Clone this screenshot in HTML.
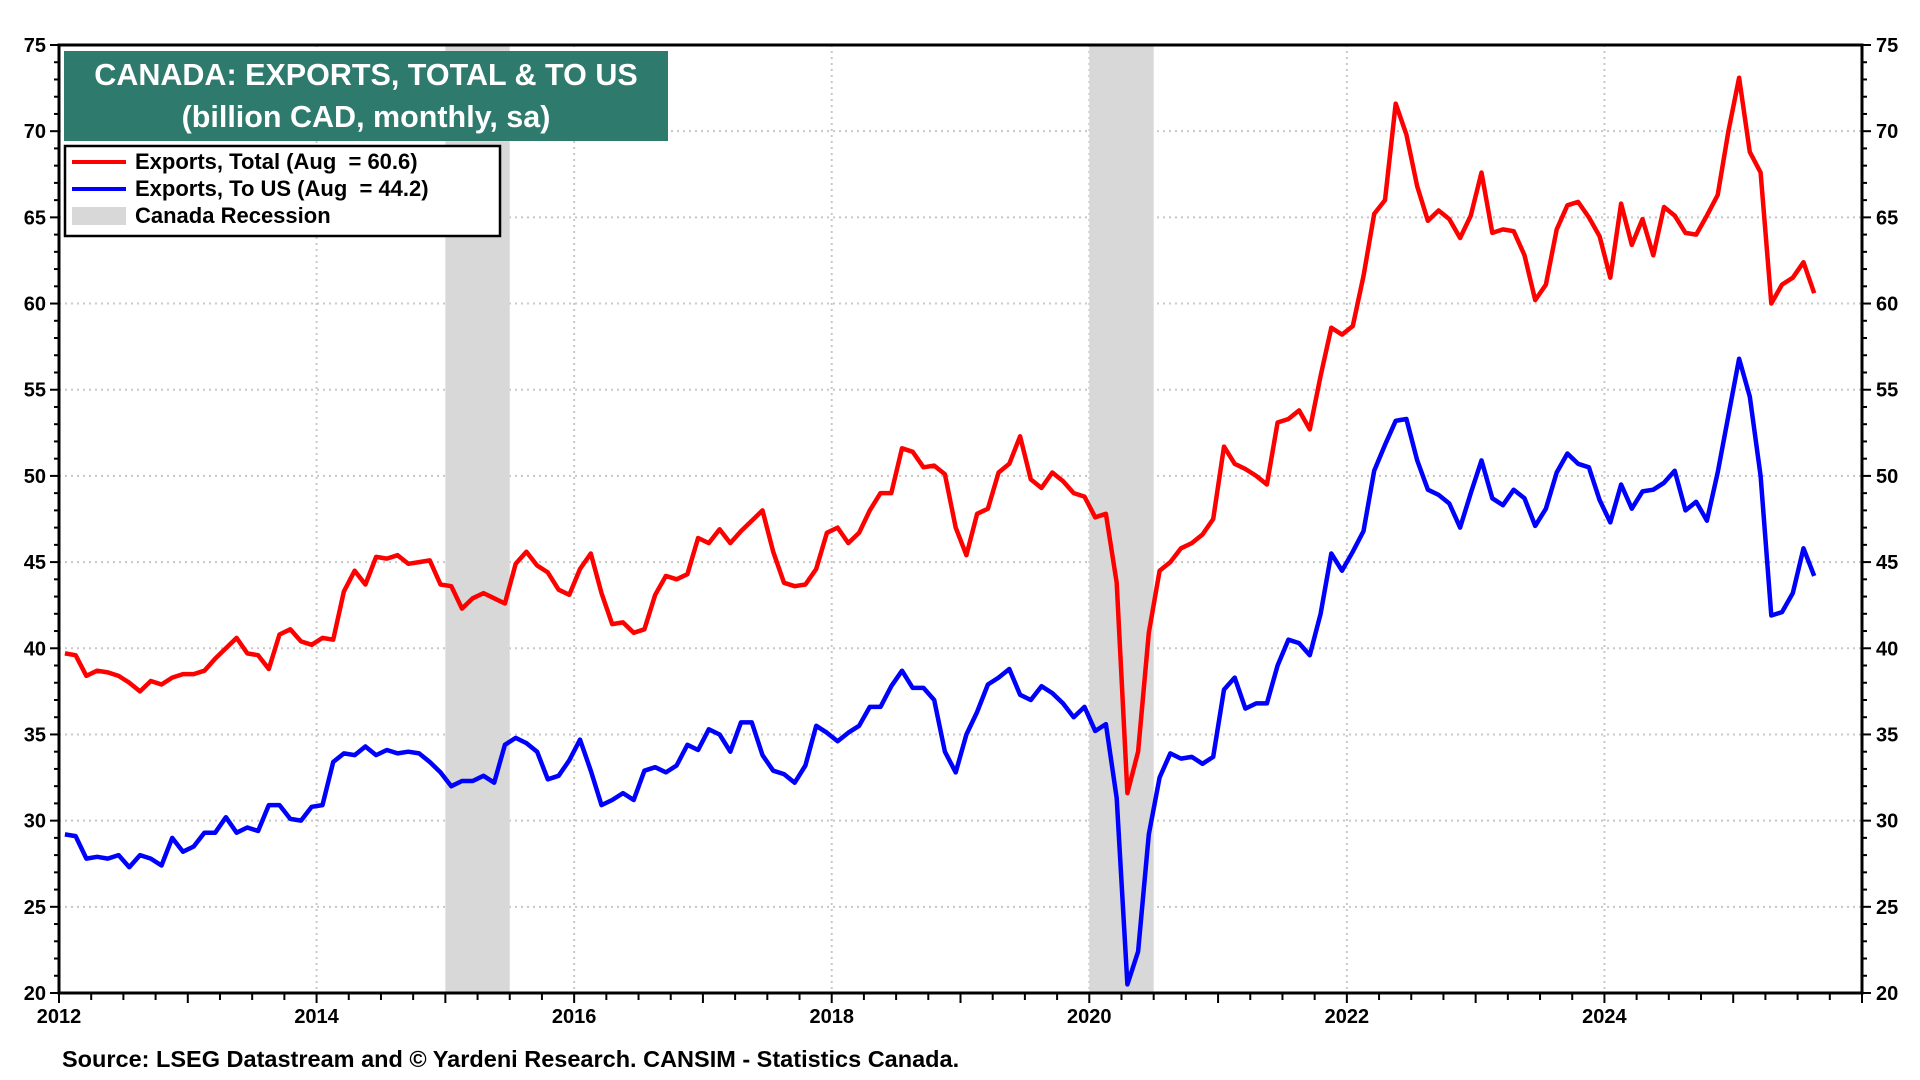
<!DOCTYPE html>
<html><head><meta charset="utf-8"><title>Canada Exports</title>
<style>
html,body{margin:0;padding:0;background:#fff;}
svg{display:block;font-family:"Liberation Sans",Arial,sans-serif;}
text{white-space:pre;}
</style></head>
<body>
<svg id="chart" width="1920" height="1080" viewBox="0 0 1920 1080" xmlns="http://www.w3.org/2000/svg">
  <g id="grid"></g>
  <g id="recessions"></g>
  <g id="series"></g>
  <g id="axes"></g>
  <rect x="64" y="51" width="604" height="90" fill="#2e7b6e"/>
  <text x="366" y="85" text-anchor="middle" font-size="30.5" font-weight="bold" fill="#fff">CANADA: EXPORTS, TOTAL &amp; TO US</text>
  <text x="366" y="127" text-anchor="middle" font-size="30.5" font-weight="bold" fill="#fff">(billion CAD, monthly, sa)</text>
  <g>
    <rect x="65" y="146" width="435" height="90" fill="#fff" stroke="#000" stroke-width="2.5"/>
    <line x1="72" y1="162" x2="126" y2="162" stroke="#ff0000" stroke-width="4"/>
    <text x="135" y="169" font-size="22" font-weight="bold" xml:space="preserve">Exports, Total (Aug  = 60.6)</text>
    <line x1="72" y1="189" x2="126" y2="189" stroke="#0000ff" stroke-width="4"/>
    <text x="135" y="196" font-size="22" font-weight="bold" xml:space="preserve">Exports, To US (Aug  = 44.2)</text>
    <rect x="72" y="207" width="54" height="18" fill="#d8d8d8"/>
    <text x="135" y="223" font-size="22" font-weight="bold">Canada Recession</text>
  </g>
  <text x="62" y="1067" font-size="23.5" font-weight="bold">Source: LSEG Datastream and © Yardeni Research. CANSIM - Statistics Canada.</text>
</svg>
<script>
const total = [
39.7,39.6,38.4,38.7,38.6,38.4,38.0,37.5,38.1,37.9,38.3,38.5,
38.5,38.7,39.4,40.0,40.6,39.7,39.6,38.8,40.8,41.1,40.4,40.2,
40.6,40.5,43.3,44.5,43.7,45.3,45.2,45.4,44.9,45.0,45.1,43.7,
43.6,42.3,42.9,43.2,42.9,42.6,44.9,45.6,44.8,44.4,43.4,43.1,
44.6,45.5,43.2,41.4,41.5,40.9,41.1,43.1,44.2,44.0,44.3,46.4,
46.1,46.9,46.1,46.8,47.4,48.0,45.6,43.8,43.6,43.7,44.6,46.7,
47.0,46.1,46.7,48.0,49.0,49.0,51.6,51.4,50.5,50.6,50.1,47.0,
45.4,47.8,48.1,50.2,50.7,52.3,49.8,49.3,50.2,49.7,49.0,48.8,
47.6,47.8,43.8,31.6,34.0,40.9,44.5,45.0,45.8,46.1,46.6,47.5,
51.7,50.7,50.4,50.0,49.5,53.1,53.3,53.8,52.7,55.8,58.6,58.2,
58.7,61.6,65.2,66.0,71.6,69.8,66.8,64.8,65.4,64.9,63.8,65.1,
67.6,64.1,64.3,64.2,62.8,60.2,61.1,64.3,65.7,65.9,65.0,63.9,
61.5,65.8,63.4,64.9,62.8,65.6,65.1,64.1,64.0,65.1,66.3,70.0,
73.1,68.8,67.6,60.0,61.1,61.5,62.4,60.6];
const toUS = [
29.2,29.1,27.8,27.9,27.8,28.0,27.3,28.0,27.8,27.4,29.0,28.2,
28.5,29.3,29.3,30.2,29.3,29.6,29.4,30.9,30.9,30.1,30.0,30.8,
30.9,33.4,33.9,33.8,34.3,33.8,34.1,33.9,34.0,33.9,33.4,32.8,
32.0,32.3,32.3,32.6,32.2,34.4,34.8,34.5,34.0,32.4,32.6,33.5,
34.7,32.9,30.9,31.2,31.6,31.2,32.9,33.1,32.8,33.2,34.4,34.1,
35.3,35.0,34.0,35.7,35.7,33.8,32.9,32.7,32.2,33.2,35.5,35.1,
34.6,35.1,35.5,36.6,36.6,37.8,38.7,37.7,37.7,37.0,34.0,32.8,
35.0,36.3,37.9,38.3,38.8,37.3,37.0,37.8,37.4,36.8,36.0,36.6,
35.2,35.6,31.3,20.5,22.4,29.2,32.5,33.9,33.6,33.7,33.3,33.7,
37.6,38.3,36.5,36.8,36.8,39.0,40.5,40.3,39.6,42.0,45.5,44.5,
45.6,46.8,50.3,51.8,53.2,53.3,50.9,49.2,48.9,48.4,47.0,49.0,
50.9,48.7,48.3,49.2,48.7,47.1,48.1,50.2,51.3,50.7,50.5,48.6,
47.3,49.5,48.1,49.1,49.2,49.6,50.3,48.0,48.5,47.4,50.2,53.5,
56.8,54.6,50.0,41.9,42.1,43.2,45.8,44.2];
const startYear = 2012;
const yTicks = [20,25,30,35,40,45,50,55,60,65,70,75];
const xTickYears = [2012,2014,2016,2018,2020,2022,2024];
const recessionStarts = [2015.0, 2020.0];
const recessionEnds = [2015.5, 2020.5];

const L=59, R=1862, T=45, B=993;
const X0=2012, X1=2026, Y0=20, Y1=75;
const MONTH_OFFSET=0.55/12;
function xs(t){return L+(t-X0)/(X1-X0)*(R-L);}
function ys(v){return B-(v-Y0)/(Y1-Y0)*(B-T);}
const NS="http://www.w3.org/2000/svg";
function mk(tag,parent,attrs){const e=document.createElementNS(NS,tag);for(const k in attrs)e.setAttribute(k,attrs[k]);parent.appendChild(e);return e;}

const grid=document.getElementById('grid');
yTicks.forEach(v=>{
  if(v===Y0||v===Y1)return;
  const l=mk('line',grid,{x1:L,x2:R,y1:ys(v),y2:ys(v),stroke:'#c8c8c8','stroke-width':2,'stroke-dasharray':'2,4'});
  
  
});
xTickYears.forEach(yr=>{
  if(yr===X0)return;
  const l=mk('line',grid,{x1:xs(yr),x2:xs(yr),y1:T,y2:B,stroke:'#c8c8c8','stroke-width':2,'stroke-dasharray':'2,4'});
  
  
});

const rec=document.getElementById('recessions');
recessionStarts.forEach((s,i)=>{
  const r=mk('rect',rec,{x:xs(s),y:T,width:xs(recessionEnds[i])-xs(s),height:B-T,fill:'#d8d8d8'});
  
  
});

const ser=document.getElementById('series');
function pathFor(arr){return arr.map((v,i)=>(i?'L':'M')+xs(startYear+i/12+MONTH_OFFSET).toFixed(1)+','+ys(v).toFixed(1)).join(' ');}
const pt=mk('path',ser,{d:pathFor(total),fill:'none',stroke:'#ff0000','stroke-width':4.5,'stroke-linejoin':'round'});


const pu=mk('path',ser,{d:pathFor(toUS),fill:'none',stroke:'#0000ff','stroke-width':4.5,'stroke-linejoin':'round'});



const ax=document.getElementById('axes');
const frame=mk('rect',ax,{x:L,y:T,width:R-L,height:B-T,fill:'none',stroke:'#000','stroke-width':3});


for(let v=Y0;v<=Y1;v++){
  const major=v%5===0, len=major?9:5;
  mk('line',ax,{x1:L-len,x2:L,y1:ys(v),y2:ys(v),stroke:'#000','stroke-width':2});
  mk('line',ax,{x1:R,x2:R+len,y1:ys(v),y2:ys(v),stroke:'#000','stroke-width':2});
}
yTicks.forEach(v=>{
  const a=mk('text',ax,{x:L-13,y:ys(v)+7,'text-anchor':'end','font-size':20,'font-weight':'bold'});
  a.textContent=v;
  
  
  const b=mk('text',ax,{x:R+14,y:ys(v)+7,'text-anchor':'start','font-size':20,'font-weight':'bold'});
  b.textContent=v;
  
  
});
for(let q=0;q<=(X1-X0)*4;q++){
  const t=X0+q/4, major=q%4===0;
  mk('line',ax,{x1:xs(t),x2:xs(t),y1:B,y2:B+(major?10:7),stroke:'#000','stroke-width':2});
}
xTickYears.forEach(yr=>{
  const a=mk('text',ax,{x:xs(yr),y:B+30,'text-anchor':'middle','font-size':20,'font-weight':'bold'});
  a.textContent=yr;
  
  
});
</script>
</body></html>
